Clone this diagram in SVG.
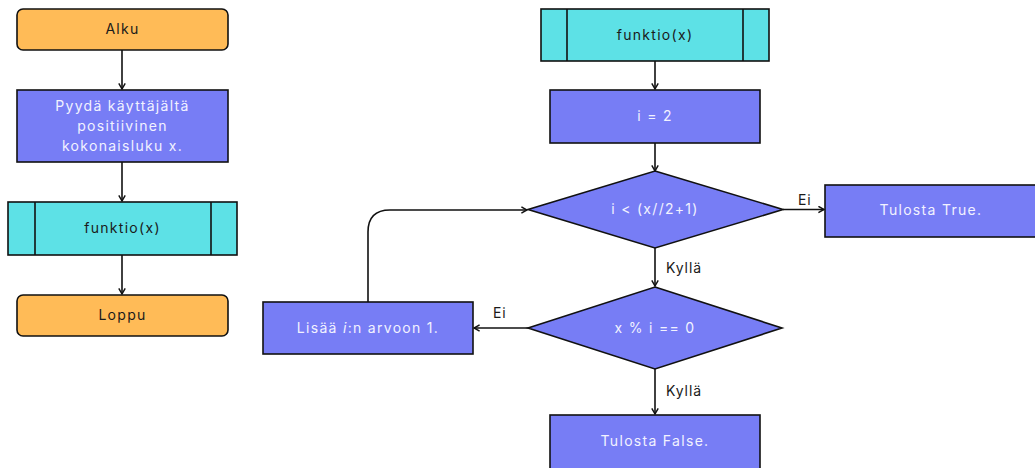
<svg xmlns="http://www.w3.org/2000/svg" width="1035" height="468" viewBox="0 0 1035 468">
<defs>
<marker id="ah" viewBox="0 0 10 10" refX="9" refY="5" markerWidth="8" markerHeight="8" markerUnits="userSpaceOnUse" orient="auto">
<path d="M2,1 L9,5 L2,9" fill="none" stroke="#111" stroke-width="1.8"/>
</marker>
<style>
.term{fill:#FFBB57;stroke:#111;stroke-width:1.6}
.proc{fill:#777DF5;stroke:#111;stroke-width:1.6}
.sub{fill:#5DE1E6;stroke:#111;stroke-width:1.6}
.edge{fill:none;stroke:#111;stroke-width:1.6;marker-end:url(#ah)}
text{font-family:Inter,"Noto Sans","Liberation Sans",sans-serif;font-size:14px;letter-spacing:1.3px;text-anchor:middle}
.dk{fill:#1a1a1a}
.lt{fill:#F2F2FF}
.lbl{fill:#1a1a1a;text-anchor:start;letter-spacing:0.9px}
</style>
</defs>
<rect width="1035" height="468" fill="#ffffff"/>

<g id="edges">
<path class="edge" d="M122,50 V89"/>
<path class="edge" d="M122,162 V201"/>
<path class="edge" d="M122,255 V294"/>
<path class="edge" d="M655,61 V89"/>
<path class="edge" d="M655,143 V171"/>
<path class="edge" d="M783,209.5 H824"/>
<path class="edge" d="M655,248 V286"/>
<path class="edge" d="M528,328 H474"/>
<path class="edge" d="M655,369 V414"/>
<path class="edge" d="M368,302 V232 Q368,210 390,210 H527"/>
<text class="lbl" x="798" y="205">Ei</text>
<text class="lbl" x="666" y="273">Kyllä</text>
<text class="lbl" x="493" y="318">Ei</text>
<text class="lbl" x="666" y="396">Kyllä</text>
</g>

<g id="alku">
<rect class="term" x="17" y="9" width="211" height="41" rx="6"/>
<text class="dk" x="122.5" y="34">Alku</text>
</g>

<g id="pyyda">
<rect class="proc" x="17" y="90" width="211" height="72"/>
<text class="lt" x="122.5" y="111">Pyydä käyttäjältä</text>
<text class="lt" x="122.5" y="131">positiivinen</text>
<text class="lt" x="122.5" y="151">kokonaisluku x.</text>
</g>

<g id="funktio-left">
<rect class="sub" x="8" y="202" width="229" height="53"/>
<line x1="35" y1="202" x2="35" y2="255" stroke="#111" stroke-width="1.6"/>
<line x1="211" y1="202" x2="211" y2="255" stroke="#111" stroke-width="1.6"/>
<text class="dk" x="122.5" y="233">funktio(x)</text>
</g>

<g id="loppu">
<rect class="term" x="17" y="295" width="211" height="41" rx="6"/>
<text class="dk" x="122.5" y="320">Loppu</text>
</g>

<g id="funktio-right">
<rect class="sub" x="541" y="9" width="228" height="52"/>
<line x1="567" y1="9" x2="567" y2="61" stroke="#111" stroke-width="1.6"/>
<line x1="743" y1="9" x2="743" y2="61" stroke="#111" stroke-width="1.6"/>
<text class="dk" x="655" y="40">funktio(x)</text>
</g>

<g id="i2">
<rect class="proc" x="550" y="90" width="210" height="53"/>
<text class="lt" x="655" y="121">i = 2</text>
</g>

<g id="cond1">
<polygon class="proc" points="655,171 783,209.5 655,248 528,209.5"/>
<text class="lt" x="655" y="214">i &lt; (x//2+1)</text>
</g>

<g id="true">
<rect class="proc" x="825" y="185" width="212" height="52"/>
<text class="lt" x="931" y="215">Tulosta True.</text>
</g>

<g id="cond2">
<polygon class="proc" points="655,287 782,328 655,369 528,328"/>
<text class="lt" x="655" y="333">x % i == 0</text>
</g>

<g id="lisaa">
<rect class="proc" x="263" y="302" width="210" height="52"/>
<text class="lt" x="368" y="333">Lisää <tspan font-style="italic">i</tspan>:n arvoon 1.</text>
</g>

<g id="false">
<rect class="proc" x="550" y="415" width="210" height="55"/>
<text class="lt" x="655" y="446">Tulosta False.</text>
</g>
</svg>
